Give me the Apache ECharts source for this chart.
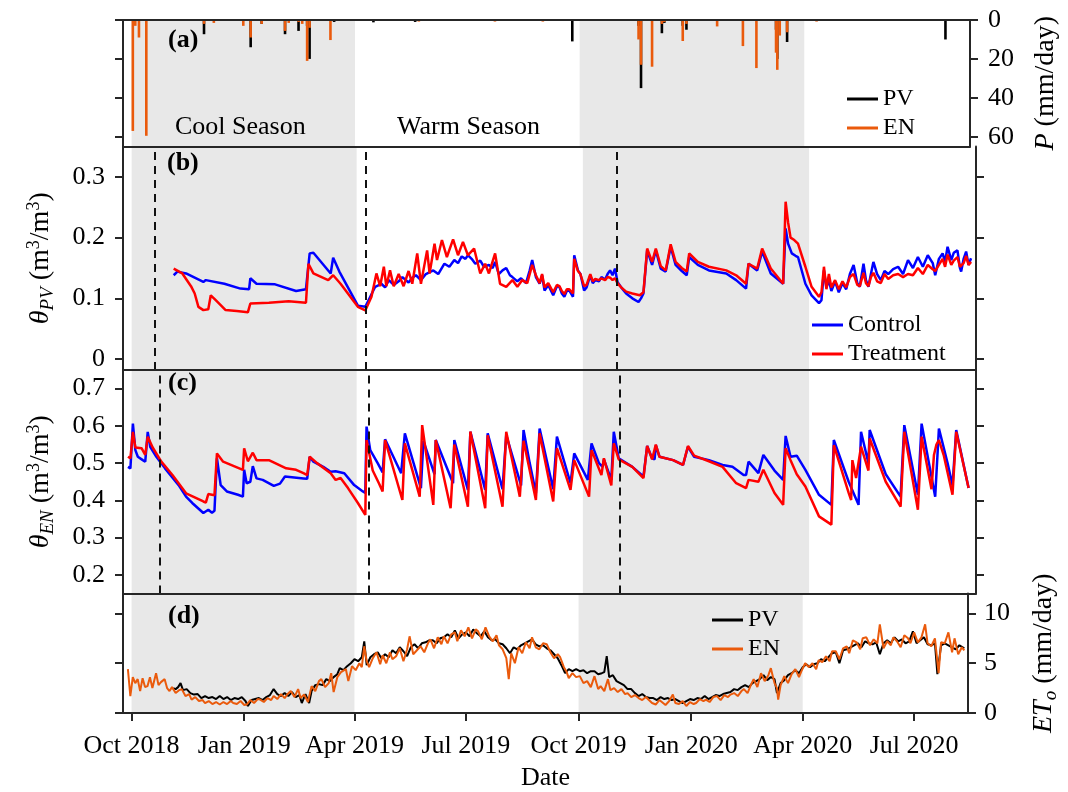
<!DOCTYPE html>
<html>
<head>
<meta charset="utf-8">
<script src="https://cdn.jsdelivr.net/npm/echarts@6/dist/echarts.min.js"></script>
<style>
  html, body { margin: 0; padding: 0; background: #fff; }
  #chart { width: 1068px; height: 792px; }
</style>
</head>
<body>
<div id="chart"></div>
<script>
// ---- time base: every record below is [days since 1 Oct 2018, value] ----
const START = Date.UTC(2018, 9, 1);
const DAY = 86400000;

const xRange = ['2018-09-24', '2020-08-14'];
const dateTicks = ['2018-10-01', '2019-01-01', '2019-04-01', '2019-07-01',
                   '2019-10-01', '2020-01-01', '2020-04-01', '2020-07-01'];
const monthNames = ['Jan', 'Feb', 'Mar', 'Apr', 'May', 'Jun', 'Jul', 'Aug', 'Sep', 'Oct', 'Nov', 'Dec'];
const coolSeasons = [['2018-10-01', '2019-04-01'], ['2019-10-01', '2020-04-01']];
const breaksPV = ['2018-10-20', '2019-04-08', '2019-10-28'];
const breaksEN = ['2018-10-24', '2019-04-11', '2019-10-31'];

const precipTicks = [0, 20, 40, 60];
const thetaPVTicks = [0, 0.1, 0.2, 0.3];
const thetaENTicks = [0.2, 0.3, 0.4, 0.5, 0.6, 0.7];
const etoTicks = [0, 5, 10];

// (a) daily precipitation, mm/day
const precipPV = [[59, 7.3], [97, 14], [106, 2], [125, 7.3], [136, 5.6], [143, 3], [145, 20], [165, 1],
  [172, 0.5], [197, 1.2], [231, 1], [359, 11], [413, 3], [415, 35], [432, 6.8], [434, 1.5],
  [449, 3], [452, 5], [525, 5], [526, 20], [534, 11.3], [663, 10]];
const precipEN = [[1, 57], [3, 3], [6, 9], [12, 59.5], [59, 2], [67, 1.5], [91, 3], [97, 9], [106, 2],
  [125, 5.6], [128, 1.5], [136, 1], [139, 2], [143, 21], [145, 4], [162, 10.3], [165, 0.5],
  [210, 0.5], [218, 0.5], [234, 0.8], [296, 0.8], [335, 0.8], [359, 0.5], [401, 0.5], [413, 10],
  [415, 23], [424, 24], [432, 2], [434, 1], [449, 10.8], [452, 2], [477, 3.3], [498, 13.4],
  [509, 24.7], [525, 16.8], [526, 25.6], [528, 8], [534, 6.3], [558, 0.8]];

// (b) soil moisture under PV, m3/m3
const thetaPVControl = [[34, 0.138], [37, 0.144], [44, 0.141], [58, 0.127], [60, 0.13], [61, 0.127],
  [75, 0.124], [88, 0.116], [95, 0.115], [96, 0.133], [101, 0.124], [116, 0.123], [133, 0.112],
  [141, 0.115], [144, 0.174], [147, 0.175], [161, 0.141], [163, 0.167], [168, 0.144], [183, 0.088],
  [189, 0.086], [193, 0.1025], [197, 0.119], [202, 0.124], [205, 0.118], [208, 0.13], [212, 0.122],
  [216, 0.128], [219, 0.135], [224, 0.126], [227, 0.134], [230, 0.138], [234, 0.13], [238, 0.14],
  [244, 0.146], [248, 0.14], [253, 0.157], [257, 0.152], [261, 0.163], [264, 0.158], [267, 0.169],
  [270, 0.165], [272, 0.171], [275, 0.165], [278, 0.157], [282, 0.162], [285, 0.152], [289, 0.155],
  [292, 0.15], [294, 0.16], [297, 0.14], [300, 0.146], [303, 0.15], [306, 0.138], [308, 0.135],
  [312, 0.128], [315, 0.133], [319, 0.125], [322, 0.146], [324, 0.163], [327, 0.135], [330, 0.124],
  [332, 0.138], [334, 0.113], [337, 0.122], [341, 0.105], [344, 0.12], [346, 0.119], [348, 0.108],
  [350, 0.1025], [352, 0.112], [354, 0.113], [357, 0.1025], [358, 0.171], [361, 0.146], [363, 0.14],
  [366, 0.113], [368, 0.118], [371, 0.138], [373, 0.125], [375, 0.13], [378, 0.128], [380, 0.135],
  [383, 0.131], [385, 0.14], [387, 0.146], [389, 0.138], [391, 0.149], [393, 0.127], [396, 0.118],
  [400, 0.108], [405, 0.1], [410, 0.094], [412, 0.1], [414, 0.108], [417, 0.179], [421, 0.155],
  [424, 0.179], [428, 0.149], [432, 0.144], [436, 0.185], [440, 0.155], [445, 0.145], [449, 0.138],
  [451, 0.168], [458, 0.155], [467, 0.146], [481, 0.141], [489, 0.13], [497, 0.116], [499, 0.157],
  [506, 0.146], [510, 0.177], [517, 0.141], [527, 0.124], [529, 0.215], [531, 0.19], [534, 0.174],
  [537, 0.17], [539, 0.168], [545, 0.124], [550, 0.105], [556, 0.092], [558, 0.097], [560, 0.146],
  [562, 0.118], [564, 0.13], [566, 0.112], [569, 0.128], [572, 0.11], [575, 0.125], [578, 0.115],
  [581, 0.14], [584, 0.155], [587, 0.125], [589, 0.119], [592, 0.157], [594, 0.13], [596, 0.119],
  [598, 0.14], [600, 0.16], [603, 0.14], [606, 0.13], [609, 0.145], [612, 0.14], [616, 0.148],
  [620, 0.152], [624, 0.14], [628, 0.163], [632, 0.15], [636, 0.168], [640, 0.152], [644, 0.171],
  [648, 0.158], [650, 0.138], [653, 0.165], [656, 0.174], [658, 0.16], [660, 0.185], [663, 0.163],
  [665, 0.175], [668, 0.179], [670, 0.15], [671, 0.144], [673, 0.165], [675, 0.177], [677, 0.155],
  [679, 0.166]];
const thetaPVTreatment = [[34, 0.149], [41, 0.141], [48, 0.12], [51, 0.108], [54, 0.086], [58, 0.0806],
  [62, 0.082], [64, 0.105], [68, 0.097], [76, 0.0806], [85, 0.079], [94, 0.077], [96, 0.0915],
  [111, 0.0927], [127, 0.095], [141, 0.0927], [143, 0.157], [147, 0.141], [159, 0.13], [163, 0.138],
  [169, 0.124], [183, 0.086], [189, 0.08], [194, 0.1025], [198, 0.141], [201, 0.12], [204, 0.152],
  [206, 0.12], [209, 0.146], [212, 0.12], [216, 0.14], [220, 0.12], [224, 0.145], [227, 0.124],
  [231, 0.174], [234, 0.124], [239, 0.179], [241, 0.141], [245, 0.19], [247, 0.163], [251, 0.196],
  [255, 0.168], [260, 0.197], [264, 0.171], [268, 0.193], [272, 0.171], [277, 0.182], [282, 0.141],
  [286, 0.157], [289, 0.141], [294, 0.174], [298, 0.124], [303, 0.119], [308, 0.13], [312, 0.119],
  [316, 0.13], [320, 0.125], [324, 0.155], [327, 0.138], [330, 0.125], [332, 0.14], [334, 0.118],
  [337, 0.125], [341, 0.11], [344, 0.122], [346, 0.12], [348, 0.112], [350, 0.107], [352, 0.115],
  [354, 0.115], [357, 0.108], [358, 0.165], [361, 0.145], [363, 0.14], [366, 0.12], [368, 0.122],
  [371, 0.14], [373, 0.128], [375, 0.132], [378, 0.13], [380, 0.133], [383, 0.13], [385, 0.135],
  [387, 0.134], [389, 0.13], [391, 0.133], [393, 0.125], [396, 0.118], [400, 0.111], [405, 0.108],
  [411, 0.105], [414, 0.11], [417, 0.182], [421, 0.16], [424, 0.182], [428, 0.153], [432, 0.146],
  [436, 0.189], [440, 0.16], [445, 0.15], [449, 0.144], [451, 0.174], [458, 0.16], [467, 0.152],
  [481, 0.146], [489, 0.138], [497, 0.124], [499, 0.157], [506, 0.149], [510, 0.182], [517, 0.149],
  [527, 0.124], [529, 0.259], [531, 0.225], [533, 0.2], [536, 0.196], [539, 0.19], [545, 0.152],
  [550, 0.119], [556, 0.1025], [558, 0.11], [560, 0.152], [562, 0.115], [564, 0.14], [566, 0.118],
  [569, 0.13], [572, 0.115], [575, 0.128], [578, 0.118], [581, 0.135], [584, 0.14], [587, 0.122],
  [589, 0.12], [592, 0.142], [594, 0.125], [596, 0.12], [598, 0.135], [600, 0.142], [603, 0.128],
  [606, 0.125], [609, 0.14], [612, 0.132], [616, 0.138], [620, 0.14], [624, 0.135], [628, 0.14],
  [632, 0.138], [636, 0.15], [640, 0.14], [644, 0.155], [648, 0.148], [650, 0.145], [653, 0.155],
  [656, 0.165], [658, 0.152], [660, 0.172], [663, 0.155], [665, 0.162], [668, 0.168], [670, 0.152],
  [671, 0.15], [673, 0.158], [675, 0.17], [677, 0.155], [679, 0.16]];

// (c) soil moisture in the open field, m3/m3
const thetaENControl = [[-3, 0.49], [-1, 0.486], [1, 0.606], [3, 0.535], [5, 0.517], [9, 0.508],
  [11, 0.504], [13, 0.584], [15, 0.544], [20, 0.517], [27, 0.486], [38, 0.441], [44, 0.41],
  [49, 0.393], [58, 0.366], [59, 0.361], [62, 0.375], [65, 0.367], [67, 0.372], [69, 0.513],
  [72, 0.441], [77, 0.424], [86, 0.415], [90, 0.41], [91, 0.482], [93, 0.446], [96, 0.45],
  [98, 0.492], [101, 0.459], [106, 0.455], [115, 0.439], [120, 0.445], [124, 0.464], [139, 0.459],
  [142, 0.458], [144, 0.517], [147, 0.504], [155, 0.49], [161, 0.477], [165, 0.478], [172, 0.473],
  [180, 0.441], [187, 0.424], [189, 0.42], [190, 0.598], [193, 0.535], [199, 0.5], [203, 0.475],
  [205, 0.564], [218, 0.473], [221, 0.58], [234, 0.433], [236, 0.56], [245, 0.47], [246, 0.562],
  [260, 0.446], [261, 0.562], [272, 0.428], [274, 0.584], [286, 0.428], [288, 0.58], [300, 0.43],
  [303, 0.575], [315, 0.44], [317, 0.589], [322, 0.5], [327, 0.419], [330, 0.593], [341, 0.43],
  [344, 0.571], [355, 0.446], [358, 0.526], [369, 0.455], [372, 0.553], [378, 0.5], [381, 0.49],
  [382, 0.51], [388, 0.455], [390, 0.584], [394, 0.513], [405, 0.49], [414, 0.464], [417, 0.546],
  [421, 0.513], [423, 0.51], [424, 0.548], [427, 0.517], [438, 0.508], [446, 0.495], [450, 0.544],
  [455, 0.517], [467, 0.508], [478, 0.495], [486, 0.49], [495, 0.468], [497, 0.468], [499, 0.504],
  [507, 0.473], [511, 0.522], [520, 0.48], [527, 0.455], [529, 0.573], [533, 0.517], [538, 0.52],
  [545, 0.482], [556, 0.415], [566, 0.388], [568, 0.562], [580, 0.45], [588, 0.388], [590, 0.584],
  [596, 0.5], [597, 0.589], [610, 0.47], [622, 0.41], [625, 0.602], [636, 0.415], [639, 0.606],
  [650, 0.41], [653, 0.593], [660, 0.5], [664, 0.44], [667, 0.589], [677, 0.433]];
const thetaENTreatment = [[-3, 0.517], [-1, 0.513], [1, 0.584], [3, 0.542], [8, 0.54], [11, 0.522],
  [13, 0.571], [17, 0.542], [24, 0.504], [33, 0.468], [44, 0.419], [58, 0.397], [60, 0.394],
  [62, 0.417], [67, 0.414], [69, 0.526], [74, 0.504], [90, 0.482], [91, 0.54], [94, 0.505],
  [98, 0.528], [101, 0.508], [111, 0.508], [125, 0.486], [133, 0.482], [139, 0.473], [142, 0.468],
  [144, 0.517], [150, 0.5], [161, 0.473], [165, 0.455], [169, 0.46], [175, 0.433], [183, 0.393],
  [189, 0.361], [190, 0.562], [195, 0.48], [200, 0.446], [203, 0.424], [205, 0.562], [219, 0.401],
  [221, 0.553], [233, 0.41], [235, 0.602], [244, 0.388], [246, 0.562], [258, 0.379], [261, 0.55],
  [272, 0.383], [274, 0.585], [286, 0.379], [288, 0.575], [300, 0.383], [303, 0.584], [314, 0.41],
  [317, 0.56], [327, 0.401], [330, 0.58], [341, 0.397], [344, 0.54], [355, 0.428], [358, 0.508],
  [370, 0.41], [372, 0.535], [380, 0.468], [382, 0.513], [388, 0.44], [390, 0.553], [394, 0.51],
  [405, 0.49], [414, 0.46], [417, 0.546], [421, 0.51], [424, 0.55], [427, 0.517], [438, 0.508],
  [446, 0.495], [450, 0.546], [455, 0.52], [467, 0.505], [478, 0.49], [489, 0.446], [497, 0.433],
  [499, 0.455], [507, 0.45], [511, 0.482], [520, 0.42], [527, 0.388], [529, 0.54], [533, 0.508],
  [538, 0.47], [545, 0.437], [556, 0.357], [566, 0.335], [568, 0.548], [580, 0.42], [582, 0.401],
  [583, 0.508], [586, 0.46], [590, 0.544], [596, 0.48], [597, 0.566], [610, 0.45], [622, 0.383],
  [625, 0.584], [636, 0.375], [639, 0.571], [647, 0.43], [649, 0.522], [651, 0.55], [653, 0.562],
  [657, 0.52], [664, 0.415], [667, 0.584], [677, 0.433]];

// (d) reference evapotranspiration, mm/day
const etoPV = [[34, 2.5], [36, 2.4], [38, 2.6], [40, 3.0], [42, 2.3], [45, 2.4], [48, 2.0], [51, 1.85],
  [54, 1.9], [57, 1.5], [60, 1.7], [63, 1.5], [66, 1.6], [69, 1.4], [72, 1.7], [75, 1.4], [78, 1.6],
  [81, 1.3], [84, 1.5], [87, 1.4], [90, 1.6], [93, 1.2], [95, 0.7], [98, 1.3], [101, 1.4], [104, 1.5],
  [107, 1.3], [110, 1.6], [113, 1.8], [116, 2.4], [119, 1.9], [122, 1.7], [125, 2.0], [128, 1.7],
  [131, 2.1], [134, 1.6], [137, 1.8], [139, 1.0], [142, 1.9], [145, 1.0], [147, 2.2], [150, 2.8],
  [153, 2.9], [156, 2.8], [159, 3.4], [162, 3.2], [165, 3.6], [168, 3.9], [170, 4.5], [173, 4.3],
  [176, 4.7], [179, 5.0], [182, 5.4], [185, 5.2], [188, 5.6], [190, 7.2], [192, 4.8], [195, 5.6],
  [198, 5.9], [201, 6.1], [204, 5.5], [207, 5.9], [210, 5.6], [213, 6.3], [216, 6.0], [219, 6.6],
  [222, 6.2], [225, 5.7], [228, 6.6], [231, 6.9], [234, 6.5], [237, 7.0], [240, 7.1], [243, 7.3],
  [246, 7.3], [249, 7.0], [252, 7.5], [255, 7.6], [258, 7.9], [261, 7.6], [264, 8.3], [267, 7.5],
  [270, 7.9], [273, 8.1], [276, 7.7], [279, 8.4], [282, 8.0], [285, 7.7], [288, 8.2], [291, 7.6],
  [294, 7.3], [297, 7.4], [300, 7.0], [303, 6.9], [306, 6.5], [309, 6.0], [312, 6.6], [315, 6.4],
  [318, 6.8], [321, 7.0], [324, 7.2], [327, 7.4], [330, 6.9], [333, 6.7], [336, 6.8], [339, 6.5],
  [342, 6.3], [345, 5.9], [348, 5.5], [351, 4.8], [354, 4.0], [357, 4.4], [360, 4.2], [363, 4.4],
  [366, 4.2], [369, 4.3], [372, 4.0], [375, 4.2], [378, 4.2], [381, 3.9], [384, 4.0], [386, 4.1],
  [388, 5.7], [390, 3.6], [393, 3.8], [396, 3.2], [399, 3.0], [402, 2.8], [405, 2.4], [408, 2.4],
  [411, 2.0], [414, 1.7], [417, 1.9], [420, 1.6], [423, 1.5], [426, 1.5], [429, 1.3], [432, 1.6],
  [435, 1.4], [438, 1.5], [441, 1.3], [444, 1.4], [447, 1.2], [450, 1.0], [453, 1.2], [456, 1.4],
  [459, 1.3], [462, 1.5], [465, 1.4], [468, 1.7], [471, 1.4], [474, 1.6], [477, 1.8], [480, 1.7],
  [483, 1.9], [486, 2.0], [489, 2.1], [492, 2.4], [495, 2.3], [498, 2.6], [501, 2.8], [504, 2.6],
  [507, 3.0], [510, 3.2], [513, 3.4], [516, 3.8], [519, 3.3], [522, 3.6], [525, 3.4], [527, 2.0],
  [530, 3.0], [533, 3.3], [536, 3.8], [539, 4.0], [542, 4.3], [545, 4.0], [548, 4.6], [551, 4.9],
  [554, 4.6], [557, 4.9], [560, 5.0], [563, 5.4], [566, 5.2], [569, 5.6], [572, 6.0], [575, 6.1],
  [578, 5.0], [581, 6.3], [584, 6.4], [587, 6.6], [590, 6.8], [593, 7.0], [596, 6.6], [599, 7.2],
  [602, 7.0], [605, 6.9], [608, 7.1], [611, 5.9], [614, 7.0], [617, 7.3], [620, 7.0], [623, 7.6],
  [626, 7.2], [629, 7.4], [632, 7.0], [635, 7.2], [638, 8.2], [641, 7.0], [644, 7.3], [647, 7.6],
  [650, 6.9], [653, 6.8], [656, 7.0], [658, 3.9], [661, 6.8], [664, 7.0], [667, 6.8], [670, 6.6],
  [673, 6.4], [676, 6.8], [680, 6.5]];
const etoEN = [[-3, 4.4], [-1, 1.7], [1, 3.6], [3, 3.0], [5, 3.4], [7, 2.2], [9, 3.5], [11, 2.6],
  [13, 2.7], [15, 3.6], [17, 2.5], [20, 4.0], [22, 2.8], [24, 3.1], [27, 3.4], [29, 2.5], [31, 2.2],
  [33, 2.6], [36, 2.0], [39, 2.3], [41, 2.4], [44, 1.7], [47, 1.9], [49, 1.35], [52, 1.6], [55, 1.2],
  [58, 1.3], [60, 1.0], [63, 1.2], [66, 0.9], [69, 1.1], [72, 0.85], [75, 1.1], [78, 0.9], [81, 1.2],
  [83, 1.0], [86, 0.9], [89, 1.2], [92, 0.8], [94, 0.85], [97, 1.3], [100, 1.0], [103, 1.4],
  [105, 1.35], [108, 1.1], [111, 1.5], [114, 1.3], [116, 1.7], [119, 1.4], [122, 1.9], [125, 1.5],
  [127, 1.85], [130, 2.2], [133, 1.6], [136, 2.4], [138, 1.5], [141, 1.85], [144, 1.1], [147, 2.7],
  [150, 2.2], [153, 3.2], [155, 3.4], [158, 2.6], [161, 3.0], [163, 4.0], [165, 2.1], [168, 3.6],
  [171, 4.1], [175, 4.4], [177, 3.2], [180, 4.7], [183, 4.3], [186, 5.0], [188, 4.6], [190, 6.7],
  [192, 5.2], [194, 4.6], [197, 5.5], [200, 6.1], [203, 4.9], [205, 5.8], [208, 5.0], [211, 6.1],
  [213, 5.4], [216, 5.7], [219, 6.5], [222, 5.2], [225, 6.4], [227, 7.7], [230, 5.9], [233, 6.3],
  [236, 6.7], [239, 6.1], [242, 7.0], [244, 7.4], [247, 6.5], [250, 7.6], [253, 6.9], [255, 7.7],
  [258, 7.0], [261, 7.9], [264, 8.1], [266, 7.2], [269, 8.3], [272, 7.7], [275, 8.6], [278, 7.5],
  [281, 8.4], [283, 8.2], [286, 7.4], [289, 8.6], [292, 7.7], [295, 7.2], [298, 7.8], [300, 6.8],
  [303, 6.4], [306, 5.5], [308, 3.4], [310, 6.0], [313, 5.0], [316, 6.6], [319, 6.0], [322, 7.1],
  [325, 6.5], [327, 7.6], [330, 6.6], [333, 6.4], [336, 7.0], [339, 6.9], [342, 6.1], [345, 5.5],
  [348, 5.9], [350, 5.6], [353, 4.6], [355, 4.2], [357, 3.5], [360, 4.0], [363, 3.6], [366, 3.7],
  [369, 3.0], [372, 3.2], [375, 2.6], [378, 3.7], [381, 2.4], [383, 2.7], [386, 2.2], [389, 3.4],
  [391, 2.3], [394, 2.5], [397, 2.1], [400, 2.4], [403, 1.9], [405, 2.0], [408, 1.6], [411, 1.8],
  [414, 1.5], [417, 1.3], [420, 1.6], [422, 1.35], [425, 1.0], [428, 0.85], [431, 1.3], [433, 1.1],
  [436, 0.8], [439, 1.2], [442, 1.85], [444, 1.0], [447, 0.9], [450, 1.2], [453, 0.7], [456, 1.1],
  [459, 0.9], [461, 1.0], [464, 1.4], [467, 1.2], [469, 1.35], [472, 1.1], [475, 1.6], [478, 1.7],
  [481, 1.3], [484, 1.8], [487, 1.6], [489, 1.85], [492, 2.0], [495, 1.7], [498, 2.2], [500, 2.4],
  [503, 2.0], [506, 2.9], [508, 3.4], [511, 2.6], [514, 4.0], [517, 3.2], [520, 3.8], [522, 4.5],
  [525, 3.0], [527, 2.5], [528, 1.35], [530, 2.8], [533, 3.7], [536, 3.0], [539, 3.9], [542, 4.4],
  [545, 3.6], [547, 4.2], [550, 5.0], [553, 4.6], [556, 5.0], [559, 4.4], [561, 5.3], [564, 5.1],
  [567, 5.7], [570, 5.2], [572, 6.2], [575, 6.2], [578, 5.4], [581, 6.5], [584, 6.7], [586, 6.0],
  [589, 7.3], [592, 7.1], [595, 6.4], [597, 7.5], [600, 7.6], [603, 6.8], [606, 7.4], [609, 7.0],
  [611, 8.9], [614, 6.5], [617, 7.2], [620, 6.8], [622, 7.6], [625, 7.2], [628, 6.6], [631, 7.8],
  [634, 7.5], [636, 7.0], [639, 8.1], [642, 7.1], [645, 7.6], [648, 8.9], [650, 7.0], [653, 6.7],
  [656, 7.5], [659, 4.0], [661, 7.1], [664, 7.0], [667, 8.1], [670, 6.1], [672, 7.5], [675, 5.9],
  [678, 6.6], [680, 6.3]];

// ---- helpers ----
const ts = s => Date.parse(s + 'T00:00:00Z');
const toTime = arr => arr.map(([d, v]) => [START + d * DAY, v]);

const FONT = '"Liberation Serif", "Times New Roman", Times, serif';
const INK = '#000';
const FRAME = { color: '#262626', width: 2 };
const SHADE = '#e8e8e8';
const C_PV = '#000000', C_EN = '#ea5a0c', C_CTRL = '#0000ff', C_TRT = '#ff0000';

const grids = [
  { left: 123, right: 92, top: 20, height: 126.5 },
  { left: 123, right: 92, top: 146.5, height: 223.5 },
  { left: 123, right: 92, top: 370, height: 223.5 },
  { left: 123, right: 92, top: 593.5, height: 119.5 }
];

// x is a linear scale of UTC timestamps; ticks sit on the first day of each quarter
function xAxisFor(gi, position, bottomLabels) {
  const ax = {
    type: 'value', gridIndex: gi, position: position,
    min: ts(xRange[0]), max: ts(xRange[1]), z: 10,
    axisLine: { show: true, onZero: false, lineStyle: FRAME },
    axisTick: { show: false }, axisLabel: { show: false },
    splitLine: { show: false }
  };
  if (bottomLabels) {
    const ticks = dateTicks.map(ts);
    ax.axisTick = { show: true, inside: false, length: 8, lineStyle: FRAME, customValues: ticks };
    ax.axisLabel = {
      show: true, customValues: ticks, margin: 20, color: INK, fontFamily: FONT, fontSize: 26,
      formatter: v => { const d = new Date(v); return monthNames[d.getUTCMonth()] + ' ' + d.getUTCFullYear(); }
    };
    ax.name = 'Date';
    ax.nameLocation = 'middle';
    ax.nameGap = 52;
    ax.nameTextStyle = { color: INK, fontFamily: FONT, fontSize: 26 };
  }
  return ax;
}

function yAxisFor(gi, position, min, max, ticks, labeled, extra) {
  const ax = Object.assign({
    type: 'value', gridIndex: gi, position: position, min: min, max: max, z: 10,
    axisLine: { show: true, onZero: false, lineStyle: FRAME },
    axisTick: { show: true, inside: false, length: 8, lineStyle: FRAME, customValues: ticks },
    axisLabel: labeled
      ? { show: true, customValues: ticks, margin: 18, color: INK, fontFamily: FONT, fontSize: 26 }
      : { show: false },
    splitLine: { show: false }
  }, extra || {});
  return ax;
}

const nameRich = {
  i: { fontFamily: FONT, fontSize: 28, fontStyle: 'italic', color: INK, lineHeight: 32, verticalAlign: 'middle' },
  n: { fontFamily: FONT, fontSize: 28, color: INK, lineHeight: 32, verticalAlign: 'middle' },
  s: { fontFamily: FONT, fontSize: 19, fontStyle: 'italic', color: INK, lineHeight: 18, verticalAlign: 'bottom' },
  p: { fontFamily: FONT, fontSize: 18, color: INK, lineHeight: 18, verticalAlign: 'top' }
};
function axisName(text, gap) {
  return {
    name: text, nameLocation: 'middle', nameRotate: 90, nameGap: gap,
    nameTextStyle: { fontFamily: FONT, fontSize: 28, color: INK, rich: nameRich }
  };
}

const yAxes = [
  // 0: (a) right, labelled
  yAxisFor(0, 'right', 0, 65, precipTicks, true, Object.assign({ inverse: true }, axisName('{i|P}{n| (mm/day)}', 60))),
  // 1: (a) left, ticks only
  yAxisFor(0, 'left', 0, 65, precipTicks, false, { inverse: true }),
  // 2: (b) left, labelled
  yAxisFor(1, 'left', -0.018, 0.35, thetaPVTicks, true, axisName('{i|θ}{s|PV}{n| (m}{p|3}{n|/m}{p|3}{n|)}', 66)),
  // 3: (b) right, ticks only
  yAxisFor(1, 'right', -0.018, 0.35, thetaPVTicks, false),
  // 4: (c) left, labelled
  yAxisFor(2, 'left', 0.15, 0.75, thetaENTicks, true, axisName('{i|θ}{s|EN}{n| (m}{p|3}{n|/m}{p|3}{n|)}', 66)),
  // 5: (c) right, ticks only
  yAxisFor(2, 'right', 0.15, 0.75, thetaENTicks, false),
  // 6: (d) right, labelled
  yAxisFor(3, 'right', 0, 12, etoTicks, true, axisName('{i|ET}{s|o}{n| (mm/day)}', 60)),
  // 7: (d) left, ticks only
  yAxisFor(3, 'left', 0, 12, etoTicks, false)
];
yAxes[6].axisLabel.margin = 16;

const xAxes = [
  xAxisFor(0, 'bottom', false),
  xAxisFor(1, 'bottom', false),
  xAxisFor(2, 'bottom', false),
  xAxisFor(3, 'bottom', true),
  xAxisFor(0, 'top', false)
];

// grey cool-season bands behind each panel
const labelledY = [0, 2, 4, 6];
const bandSeries = grids.map((g, gi) => ({
  type: 'line', xAxisIndex: gi, yAxisIndex: labelledY[gi], data: [], silent: true, z: 1,
  markArea: {
    silent: true, label: { show: false },
    itemStyle: { color: SHADE },
    data: coolSeasons.map(([a, b]) => [{ xAxis: ts(a) }, { xAxis: ts(b) }])
  }
}));

// dashed vertical lines in (b) and (c)
function breakSeries(gi, yi, dates) {
  return {
    type: 'line', xAxisIndex: gi, yAxisIndex: yi, data: [], silent: true, z: 6,
    markLine: {
      silent: true, symbol: ['none', 'none'], label: { show: false },
      lineStyle: { color: '#111', type: [8, 6], width: 2 },
      data: dates.map(d => ({ xAxis: ts(d) }))
    }
  };
}

function lineSeries(name, gi, yi, data, color, width) {
  return {
    name: name, type: 'line', xAxisIndex: gi, yAxisIndex: yi, data: toTime(data),
    showSymbol: false, symbol: 'none', z: 3,
    lineStyle: { color: color, width: width }, itemStyle: { color: color },
    emphasis: { disabled: true }
  };
}
function barSeries(name, data, color) {
  return {
    name: name, type: 'bar', xAxisIndex: 0, yAxisIndex: 0, data: toTime(data),
    barWidth: 2.6, barGap: '-100%', z: 3,
    itemStyle: { color: color }, emphasis: { disabled: true }
  };
}

const legendText = { color: INK, fontFamily: FONT, fontSize: 24 };
function legendAt(left, top, names) {
  return {
    orient: 'vertical', left: left, top: top, itemWidth: 31, itemHeight: 3, itemGap: 5,
    selectedMode: false, textStyle: legendText,
    data: names.map(n => ({ name: n, icon: 'rect' }))
  };
}

function textAt(left, top, text, bold) {
  return {
    type: 'text', left: left, top: top, z: 20, silent: true,
    style: { text: text, fill: INK, font: (bold ? 'bold ' : '') + '26px ' + FONT }
  };
}

const option = {
  animation: false,
  backgroundColor: '#ffffff',
  grid: grids,
  xAxis: xAxes,
  yAxis: yAxes,
  legend: [
    legendAt(842, 82, ['PV', 'EN']),
    legendAt(807, 308, ['Control', 'Treatment']),
    legendAt(707, 603, ['PV', 'EN'])
  ],
  graphic: [
    textAt(168, 27, '(a)', true),
    textAt(167, 150, '(b)', true),
    textAt(168, 370, '(c)', true),
    textAt(168, 603, '(d)', true),
    textAt(175, 114, 'Cool Season', false),
    textAt(397, 114, 'Warm Season', false)
  ],
  series: [
    ...bandSeries,
    barSeries('PV', precipPV, C_PV),
    barSeries('EN', precipEN, C_EN),
    lineSeries('Control', 1, 2, thetaPVControl, C_CTRL, 2.5),
    lineSeries('Treatment', 1, 2, thetaPVTreatment, C_TRT, 2.5),
    lineSeries('Control', 2, 4, thetaENControl, C_CTRL, 2.5),
    lineSeries('Treatment', 2, 4, thetaENTreatment, C_TRT, 2.5),
    lineSeries('PV', 3, 6, etoPV, C_PV, 2),
    lineSeries('EN', 3, 6, etoEN, C_EN, 2),
    breakSeries(1, 2, breaksPV),
    breakSeries(2, 4, breaksEN)
  ]
};

const chart = echarts.init(document.getElementById('chart'), null, { renderer: 'canvas' });
chart.setOption(option);
</script>
</body>
</html>
